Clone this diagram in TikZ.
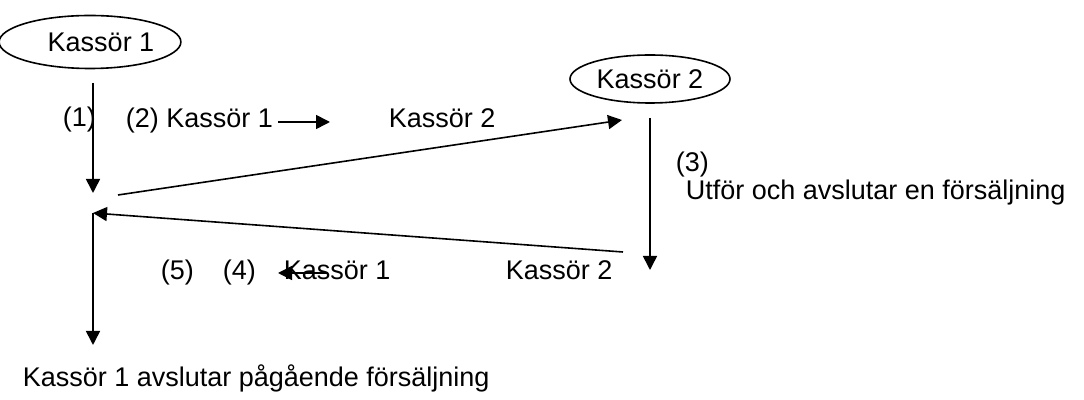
\documentclass[tikz,border=0pt]{standalone}
\usepackage{fontspec}
\setmainfont{Liberation Sans}
\usetikzlibrary{shapes.geometric,arrows.meta}
\begin{document}
\begin{tikzpicture}[
          x = 0.5pt, y = -0.5pt,
          font = \fontsize{13.5}{16}\selectfont,
          line width = 0.8pt,
          kass/.style = {draw, ellipse, inner sep = 0pt},
          txt/.style = {anchor = base west, inner sep = 0pt},
          pil/.style = {-{Triangle[length=7pt,width=7pt]}},
        ]
        \useasboundingbox (0,0) rectangle (1084,400);
        \node[kass, minimum width = 80.5pt, minimum height = 26.5pt] (k1) at (90,42) {\hspace*{11pt}Kassör 1};
        \node[kass, minimum width = 80pt, minimum height = 24pt] (k2) at (650,79) {Kassör 2};
        % labels
        \node[txt] (l1) at (62,127) {(1)};
        \node[txt] (l2) at (125,128) {(2) Kassör 1};
        \node[txt] (l2b) at (388,128) {Kassör 2};
        \node[txt] (l3) at (675,172) {(3)};
        \node[txt] (l3b) at (685,200) {Utför och avslutar en försäljning};
        \node[txt] (l5) at (160,280) {(5)};
        \node[txt] (l4) at (222,280) {(4)};
        \node[txt] (l4a) at (283,280) {Kassör 1};
        \node[txt] (l4b) at (505,280) {Kassör 2};
        \node[txt] (slut) at (22,387) {Kassör 1 avslutar pågående försäljning};
        % arrow ends
        \coordinate (a1) at (93,83);   \coordinate (b1) at (93,193);
        \coordinate (a2) at (118,195); \coordinate (b2) at (622,120);
        \coordinate (a3) at (650,118); \coordinate (b3) at (650,270);
        \coordinate (a4) at (623,252); \coordinate (b4) at (93,213);
        \coordinate (b5) at (93,345);
        \coordinate (s2) at (278,122); \coordinate (t2) at (330,122);
        \coordinate (s4) at (328,273); \coordinate (t4) at (278,273);
        \draw[pil] (a1) -- (b1);
        \draw[pil] (a2) -- (b2);
        \draw[pil] (a3) -- (b3);
        \draw[pil] (a4) -- (b4);
        \draw[pil] (b4) -- (b5);
        \draw[pil] (s2) -- (t2);
        \draw[pil] (s4) -- (t4);
      \end{tikzpicture}
\end{document}
